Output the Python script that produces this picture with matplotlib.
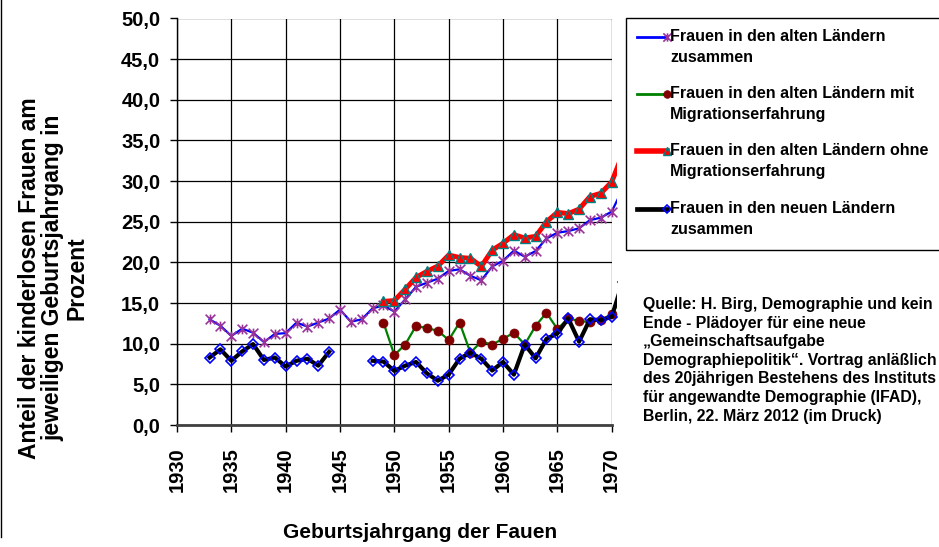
import numpy as np
import matplotlib
matplotlib.use("Agg")
import matplotlib.pyplot as plt
from matplotlib.patches import Rectangle
from matplotlib.lines import Line2D
from matplotlib.path import Path
from matplotlib.ticker import FuncFormatter

plt.rcParams['font.family'] = ['Liberation Sans', 'DejaVu Sans']
plt.rcParams['font.weight'] = 'bold'

# ---------------- data ----------------
years_alt = list(range(1933, 1972))
alt_zusammen = [13.0, 12.2, 10.95, 11.85, 11.35, 10.2, 11.2, 11.3, 12.6, 12.1, 12.6, 13.1,
                14.2, 12.7, 13.0, 14.35, 14.7, 13.95, 15.45, 17.0, 17.5, 18.0, 18.95, 19.15,
                18.35, 17.8, 19.5, 20.2, 21.45, 20.7, 21.4, 22.95, 23.65, 23.85, 24.2, 25.2,
                25.5, 26.25, 29.0]

years_mig = list(range(1949, 1972))
alt_mit_mig = [12.6, 8.6, 9.9, 12.2, 11.9, 11.6, 10.45, 12.6, 8.9, 10.25, 9.9, 10.6,
               11.35, 9.9, 12.2, 13.8, 11.8, 13.1, 12.8, 12.65, 12.9, 13.65, 16.0]
alt_ohne_mig = [15.2, 15.3, 16.7, 18.15, 18.9, 19.55, 20.9, 20.6, 20.5, 19.5, 21.5, 22.35,
                23.4, 23.0, 23.2, 25.0, 26.15, 26.0, 26.55, 28.1, 28.5, 29.9, 33.3]

years_neu = list(range(1933, 1972))
neu_zusammen = [8.3, 9.3, 7.9, 9.05, 9.95, 8.0, 8.3, 7.2, 7.9, 8.15, 7.3, 9.0,
                None, None, None,
                7.9, 7.8, 6.65, 7.3, 7.75, 6.35, 5.45, 6.2, 8.15, 8.9, 8.15, 6.7, 7.75,
                6.2, 9.9, 8.2, 10.6, 11.25, 13.1, 10.25, 13.0, 12.9, 13.3, 17.6]

labels = ["Frauen in den alten Ländern\nzusammen",
          "Frauen in den alten Ländern mit\nMigrationserfahrung",
          "Frauen in den alten Ländern ohne\nMigrationserfahrung",
          "Frauen in den neuen Ländern\nzusammen"]

x_ticks = list(range(1930, 1971, 5))
y_ticks = list(range(0, 51, 5))

source_text = ("Quelle: H. Birg, Demographie und kein\n"
               "Ende - Plädoyer für eine neue\n"
               "\u201eGemeinschaftsaufgabe\n"
               "Demographiepolitik\u201c. Vortrag anläßlich\n"
               "des 20jährigen Bestehens des Instituts\n"
               "für angewandte Demographie (IFAD),\n"
               "Berlin, 22. März 2012 (im Druck)")

# ---------------- figure ----------------
W, H = 939, 547
fig = plt.figure(figsize=(W / 100, H / 100), dpi=100)

def fx(px):
    return px / W

def fy(py):
    return 1 - py / H

ax = fig.add_axes([fx(177), fy(425), fx(611.7) - fx(177), fy(18.5) - fy(425)])

star = Path([(0, -1), (0, 1), (-1, -1), (1, 1), (-1, 1), (1, -1)],
            [Path.MOVETO, Path.LINETO, Path.MOVETO, Path.LINETO, Path.MOVETO, Path.LINETO])

styles = [
    dict(color='#0000FF', lw=1.6, marker=star, ms=7, mec='#993399', mfc='#993399', mew=1.2, zorder=3),
    dict(color='#008000', lw=1.6, marker='o', ms=6.5, mec='#800000', mfc='#800000', mew=0.5, zorder=4),
    dict(color='#FF0000', lw=3.6, marker='^', ms=7, mec='#008080', mfc='#FF0000', mew=1.0, zorder=5),
    dict(color='#000000', lw=3.0, marker='D', ms=5, mec='#0000FF', mfc='none', mew=1.2, zorder=6),
]

series = [
    (years_alt, alt_zusammen),
    (years_mig, alt_mit_mig),
    (years_mig, alt_ohne_mig),
    (years_neu, neu_zusammen),
]

for (xs, ys), st in zip(series, styles):
    ys = np.array([np.nan if v is None else v for v in ys], dtype=float)
    line, = ax.plot(xs, ys, **st)
    line.set_clip_path(Rectangle((0, 0), 1.0115, 1.02, transform=ax.transAxes))

ax.set_xlim(1930, 1970)
ax.set_ylim(0, 50)
ax.set_xticks(x_ticks)
ax.set_yticks(y_ticks)
ax.yaxis.set_major_formatter(FuncFormatter(lambda v, p: f"{v:.1f}".replace('.', ',')))
ax.grid(True, color='black', lw=0.9)
ax.set_axisbelow(True)
for s in ['top', 'right']:
    ax.spines[s].set_visible(False)
ax.spines['left'].set_color('black')
ax.spines['left'].set_linewidth(1.0)
ax.spines['bottom'].set_color('#404040')
ax.spines['bottom'].set_linewidth(2.0)
ax.tick_params(axis='y', direction='out', length=5, width=1, labelsize=14.5, pad=7)
ax.tick_params(axis='x', direction='out', length=5, width=1, labelsize=14.5, pad=11,
               labelrotation=90)
for lab in ax.get_xticklabels() + ax.get_yticklabels():
    lab.set_fontweight('bold')

# axis titles
fig.text(fx(420), fy(532), "Geburtsjahrgang der Fauen", ha='center', va='center',
         fontsize=15, fontweight='bold')
fig.text(fx(53), fy(278), "Anteil der kinderlosen Frauen am\njeweiligen Geburtsjahrgang in\nProzent",
         rotation=90, ha='center', va='center', multialignment='center',
         fontsize=16.5, fontweight='bold', linespacing=1.05)

# legend (manual)
fig.patches.append(Rectangle((fx(626), fy(250)), fx(960) - fx(626), fy(18) - fy(250),
                             transform=fig.transFigure, fill=False, ec='black', lw=1.0))
entry_y = [37, 94, 151, 209]
for yy, lab, st in zip(entry_y, labels, styles):
    kw = dict(st)
    kw.pop('zorder')
    kw['ms'] = kw['ms'] * 0.85
    kw['lw'] = kw['lw'] + 0.4
    fig.lines.append(Line2D([fx(637), fx(667)], [fy(yy), fy(yy)], markevery=[1],
                            transform=fig.transFigure, **kw))
    fig.text(fx(670), fy(yy - 8), lab, ha='left', va='top', fontsize=11.5,
             fontweight='bold', linespacing=1.5)

# source text
fig.text(fx(643), fy(297), source_text, ha='left', va='top', fontsize=11.4,
         fontweight='bold', linespacing=1.3)

# outer frame (left edge)
fig.lines.append(Line2D([fx(0.8), fx(0.8)], [fy(0), fy(537)], transform=fig.transFigure,
                        color='black', lw=1.0))

fig.savefig("out.png", dpi=100)
